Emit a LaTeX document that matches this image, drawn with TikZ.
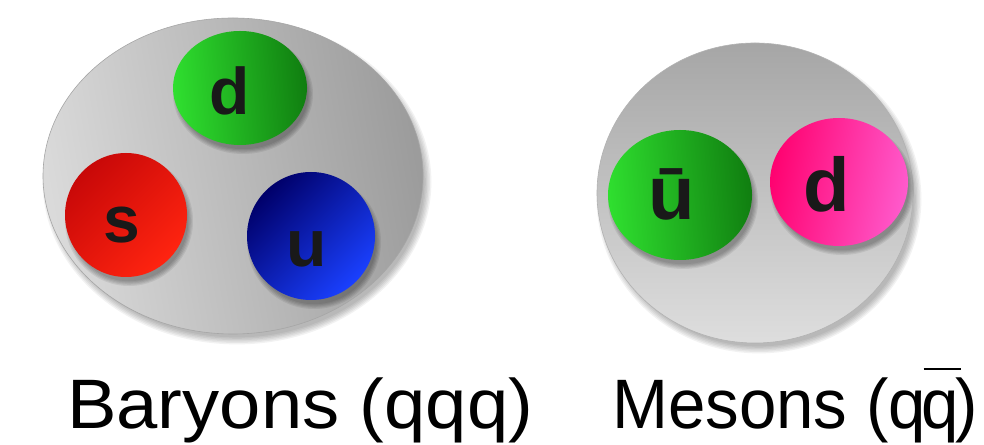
\documentclass[tikz,border=0pt]{standalone}
\usepackage{fontspec}
\setmainfont{Liberation Sans}
\usetikzlibrary{positioning}

\definecolor{diskLight}{HTML}{DADADA}
\definecolor{diskDark}{HTML}{9C9C9C}
\definecolor{grnLight}{HTML}{2FDF2F}
\definecolor{grnDark}{HTML}{107E10}
\definecolor{redDark}{HTML}{C80808}
\definecolor{redLight}{HTML}{FF2410}
\definecolor{bluDark}{HTML}{00006A}
\definecolor{bluLight}{HTML}{1A40FF}
\definecolor{pnkDark}{HTML}{FF0270}
\definecolor{pnkLight}{HTML}{FF5ACC}

% antiquark bar, set high above the q
\newcommand{\qbar}{q\llap{\rule[0.83em]{0.55em}{0.03em}\hspace{-0.02em}}}

\tikzset{
  label/.style={font=\fontsize{70}{80}\selectfont, anchor=base west, inner sep=0pt, transform shape},
  flavour/.style={font=\bfseries\fontsize{#1}{#1}\selectfont, anchor=base, inner sep=0pt, text=black!90},
  flavour/.default=66
}

\begin{document}
\begin{tikzpicture}[x=1pt,y=1pt]
  \useasboundingbox (0,0) rectangle (984,444);
  \fill[white] (0,0) rectangle (984,444);

  % soft shadows under the two hadrons
  \foreach \cx/\cy/\rx/\ry in {233/268/190/158, 755/251/158/150} {
    \foreach \k in {1,...,6} {
      \fill[black,opacity=0.05] (\cx+4,\cy-6) ellipse [x radius=\rx+\k*1.4-4, y radius=\ry+\k*1.4-4];
    }
  }
  \shade[draw=gray!70, line width=0.6pt, left color=diskLight, middle color=diskLight!97!black, right color=diskDark, shading angle=100]
    (233,268) ellipse [x radius=190, y radius=158];
  \shade[draw=gray!60, line width=0.6pt, top color=diskDark!90, bottom color=diskLight!90!white]
    (755,251) ellipse [x radius=158, y radius=150];

  % quarks: x/y/rx/ry/first colour/second colour/angle
  \foreach \cx/\cy/\rx/\ry/\ca/\cb/\ang in {
      240/356/67/57/grnLight/grnDark/95,
      126/229/61/62/redDark/redLight/45,
      311/208/64/64/bluDark/bluLight/45,
      680/249/72/65/grnLight/grnDark/95,
      839/262/69/64/pnkDark/pnkLight/80} {
    \foreach \k in {1,...,5} {
      \fill[black,opacity=0.07] (\cx+3,\cy-6) ellipse [x radius=\rx+\k*1.2-3, y radius=\ry+\k*1.2-3];
    }
    \shade[left color=\ca, right color=\cb, shading angle=\ang]
      (\cx,\cy) ellipse [x radius=\rx, y radius=\ry];
  }

  % flavour letters
  \node[flavour] (bd) at (230,329) {d};
  \node[flavour] (bs) at (122,201) {s};
  \node[flavour] (bu) at (307,177) {u};
  \node[flavour=76] (mu) at (672,224) {ū};
  \node[flavour=76] (md) at (827,232) {d};

  \node[label, xscale=1.06] (baryons) at (67,16) {Baryons (qqq)};
  \node[label, xscale=0.96] (mesons) at (612,16)
    {Mesons (q\kern-0.06em\qbar\kern-0.06em)};
\end{tikzpicture}
\end{document}
